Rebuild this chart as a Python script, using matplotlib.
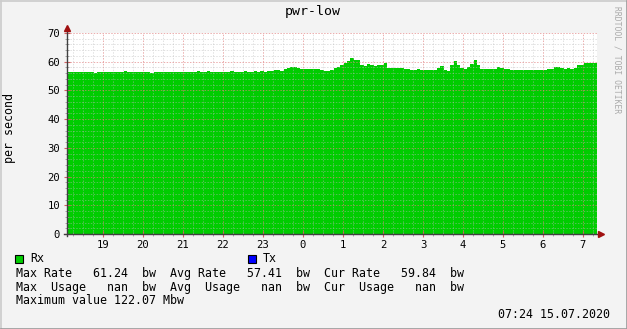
#!/usr/bin/env python3
"""RRDtool style traffic graph: pwr-low."""

import matplotlib

matplotlib.use("Agg")
import matplotlib.pyplot as plt
from matplotlib.lines import Line2D
from matplotlib.patches import Rectangle
from matplotlib.ticker import FixedLocator, MultipleLocator

W, H = 627, 329

# samples every 5 minutes, starting at 18:06 (hours since midnight of the first day)
START_HOUR = 18.1
STEP_HOURS = 5 / 60

rx_rate = [
    56.4, 56.4, 56.4, 56.4, 56.4, 56.4, 56.4, 56.4, 56.1, 56.4,
    56.4, 56.4, 56.4, 56.4, 56.4, 56.4, 56.4, 56.8, 56.4, 56.4,
    56.4, 56.4, 56.4, 56.4, 56.4, 56.1, 56.4, 56.4, 56.4, 56.4,
    56.4, 56.4, 56.4, 56.4, 56.4, 56.4, 56.4, 56.4, 56.4, 56.8,
    56.4, 56.4, 56.7, 56.4, 56.4, 56.4, 56.4, 56.4, 56.4, 56.6,
    56.4, 56.4, 56.4, 56.6, 56.4, 56.4, 56.6, 56.4, 56.6, 56.4,
    56.7, 56.9, 57.0, 57.1, 56.9, 57.3, 57.9, 58.0, 58.0, 57.8,
    57.6, 57.5, 57.5, 57.4, 57.4, 57.4, 57.0, 56.9, 56.9, 57.2,
    57.8, 58.3, 59.0, 59.6, 60.1, 61.24, 60.5, 60.6, 58.8, 58.6,
    59.1, 58.9, 58.5, 58.7, 58.7, 59.7, 57.9, 57.8, 57.8, 57.8,
    57.8, 57.4, 57.4, 57.2, 57.2, 57.3, 57.1, 57.1, 57.1, 57.1,
    57.1, 57.8, 58.5, 57.2, 56.9, 59.0, 60.4, 59.0, 57.7, 57.6,
    58.2, 59.3, 60.5, 59.0, 57.4, 57.3, 57.3, 57.3, 57.3, 58.0,
    57.9, 57.5, 57.4, 57.1, 57.1, 57.2, 57.1, 57.1, 57.1, 57.2,
    57.1, 57.1, 57.1, 57.1, 57.4, 57.6, 58.0, 58.0, 57.8, 57.6,
    57.8, 57.6, 57.9, 58.8, 59.0, 59.5, 59.4, 59.5, 59.5, 59.84,
]

hour_ticks = [19, 20, 21, 22, 23, 24, 25, 26, 27, 28, 29, 30, 31]
hour_labels = ["19", "20", "21", "22", "23", "0", "1", "2", "3", "4", "5", "6", "7"]
y_ticks = [0, 10, 20, 30, 40, 50, 60, 70]

TITLE = "pwr-low"
Y_LABEL = "per second"
CREDIT = "RRDTOOL / TOBI OETIKER"
LEGEND_LINES = [
    "Max Rate   61.24  bw  Avg Rate   57.41  bw  Cur Rate   59.84  bw",
    "Max  Usage   nan  bw  Avg  Usage   nan  bw  Cur  Usage   nan  bw",
    "Maximum value 122.07 Mbw",
]
STAMP = "07:24 15.07.2020"

GREEN = "#00CC00"
BLUE = "#0000FF"
MONO = "DejaVu Sans Mono"


def fx(x):
    return x / W


def fy(y):
    return 1 - y / H


def main():
    fig = plt.figure(figsize=(W / 100, H / 100), dpi=100, facecolor="#F3F3F3")

    # 3d-ish frame of the image
    fig.add_artist(Line2D([fx(0.5), fx(0.5)], [fy(0.5), fy(328.5)], color="#CBCBCB", lw=1.2))
    fig.add_artist(Line2D([fx(0.5), fx(626.5)], [fy(0.5), fy(0.5)], color="#CBCBCB", lw=1.2))
    fig.add_artist(Line2D([fx(626.5), fx(626.5)], [fy(0.5), fy(328.5)], color="#999999", lw=1.2))
    fig.add_artist(Line2D([fx(0.5), fx(626.5)], [fy(328.5), fy(328.5)], color="#999999", lw=1.2))

    ax = fig.add_axes([fx(67), fy(234), (597 - 67) / W, (234 - 33) / H])
    ax.set_facecolor("white")

    times = [START_HOUR + i * STEP_HOURS for i in range(len(rx_rate))]
    ax.fill_between(times, 0, rx_rate, step="post", color=GREEN, lw=0, zorder=1)

    ax.set_xlim(times[0], times[-1])
    ax.set_ylim(0, 70)

    ax.xaxis.set_major_locator(FixedLocator(hour_ticks))
    ax.set_xticklabels(hour_labels)
    ax.xaxis.set_minor_locator(MultipleLocator(0.25))
    ax.yaxis.set_major_locator(FixedLocator(y_ticks))
    ax.yaxis.set_minor_locator(MultipleLocator(2))

    ax.grid(which="minor", color="#BBBBBB", lw=0.7, ls=(0, (1.5, 1.5)), alpha=0.45, zorder=2)
    ax.grid(which="major", color="#E08080", lw=0.7, ls=(0, (1.5, 1.5)), alpha=0.65, zorder=2)
    ax.set_axisbelow(False)

    for side in ["top", "right", "left", "bottom"]:
        ax.spines[side].set_visible(False)

    ax.tick_params(which="major", axis="x", length=4, direction="inout", color="#D06060",
                   labelsize=7.6, pad=2)
    ax.tick_params(which="major", axis="y", length=4, direction="inout", color="#D06060",
                   labelsize=7.6, pad=3)
    ax.tick_params(which="minor", length=2.5, direction="inout", color="#999999")
    for lab in ax.get_xticklabels() + ax.get_yticklabels():
        lab.set_fontfamily(MONO)

    # axes with arrows
    fig.add_artist(Line2D([fx(67), fx(67)], [fy(236), fy(29)], color="#404040", lw=1))
    fig.add_artist(Line2D([fx(64), fx(598)], [fy(234), fy(234)], color="#404040", lw=1))
    fig.add_artist(Line2D([fx(67)], [fy(28)], marker="^", ms=4.5, color="#A01010", lw=0))
    fig.add_artist(Line2D([fx(601)], [fy(234)], marker=">", ms=4.5, color="#A01010", lw=0))

    fig.text(fx(313), fy(12), TITLE, family=MONO, fontsize=9.5, ha="center", va="center")
    fig.text(fx(10), fy(128), Y_LABEL, family=MONO, fontsize=8.4, rotation=90,
             ha="center", va="center")
    fig.text(fx(617), fy(60), CREDIT, family=MONO, fontsize=5.8, rotation=270,
             ha="center", va="center", color="#AAAAAA")

    # legend
    fig.add_artist(Rectangle((fx(15), fy(263)), 8 / W, 8 / H, facecolor=GREEN,
                             edgecolor="black", lw=0.8))
    fig.text(fx(30), fy(259), "Rx", family=MONO, fontsize=8.4, va="center")
    fig.add_artist(Rectangle((fx(248), fy(263)), 8 / W, 8 / H, facecolor=BLUE,
                             edgecolor="black", lw=0.8))
    fig.text(fx(263), fy(259), "Tx", family=MONO, fontsize=8.4, va="center")

    for k, line in enumerate(LEGEND_LINES):
        fig.text(fx(16), fy(273 + 14 * k), line, family=MONO, fontsize=8.4, va="center")

    fig.text(fx(610), fy(315), STAMP, family=MONO, fontsize=8.4, ha="right", va="center")

    fig.savefig("out.png", dpi=100, facecolor=fig.get_facecolor())
    plt.close(fig)


if __name__ == "__main__":
    main()
